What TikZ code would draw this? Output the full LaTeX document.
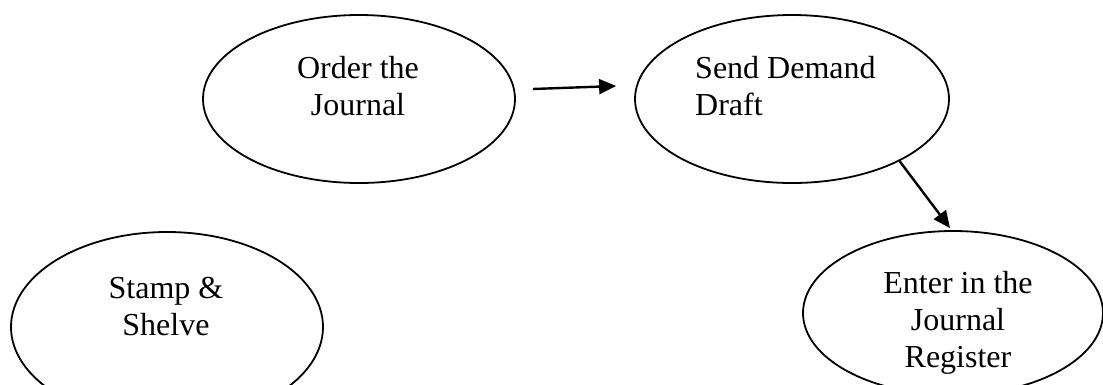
\documentclass[tikz,border=0pt]{standalone}
\usepackage{fontspec}
\setmainfont{Liberation Serif}
\usetikzlibrary{shapes.geometric,arrows.meta}
\tikzset{
  oval/.style={draw=black, line width=1.8pt, ellipse, inner sep=0pt},
  lbl/.style={font=\fontsize{32}{37}\selectfont, inner sep=0pt, anchor=base},
  arr/.style={line width=2.4pt, -{Triangle[length=17pt,width=15pt]}}
}
\begin{document}
\begin{tikzpicture}[x=1pt,y=-1pt]
\useasboundingbox (0,0) rectangle (1103,384);
\node[oval, minimum width=312pt, minimum height=168pt] (o) at (359,99) {};
\node[oval, minimum width=314pt, minimum height=168pt] (s) at (792,99) {};
\node[oval, minimum width=312pt, minimum height=190pt] (st) at (167,327) {};
\node[oval, minimum width=300pt, minimum height=164pt] (e) at (953,313) {};
\node[lbl, align=center] (ot) at (358,115) {Order the\\Journal};
\node[lbl, align=left, anchor=base west] (sdt) at (695,115) {Send Demand\\Draft};
\node[lbl, align=center] (stt) at (166,335) {Stamp \&\\Shelve};
\node[lbl, align=center] (et) at (958,367) {Enter in the\\Journal\\Register};
\draw[arr] ([shift={(17,-10)}]o.east) -- ([shift={(-18,-13)}]s.west);
\draw[arr] (s.330) -- ([shift={(-3,-2)}]e.north);
\end{tikzpicture}
\end{document}
